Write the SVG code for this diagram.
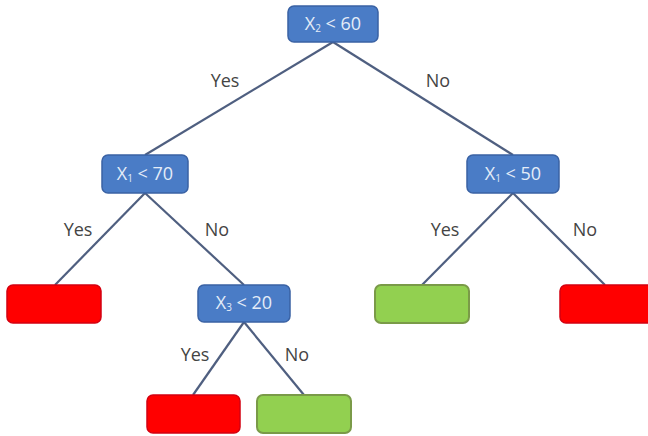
<svg xmlns="http://www.w3.org/2000/svg" width="648" height="436" viewBox="0 0 648 436">
<style>
.dec{fill:#4a7cc6;stroke:#3a62a4;stroke-width:1.5}
.red{fill:#ff0000;stroke:#d40010;stroke-width:1.5}
.grn{fill:#92d050;stroke:#7a9a48;stroke-width:2}
.nt{font-family:"Open Sans","Liberation Sans",sans-serif;font-size:18px;fill:#e4ecf8;text-anchor:middle}
.sub{font-size:10px}
.lbl{font-family:"Open Sans","Liberation Sans",sans-serif;font-size:18px;fill:#444;text-anchor:middle}
.edge{stroke:#4f5f80;stroke-width:2.2;fill:none}
</style>
<rect width="648" height="436" fill="#fff"/>
<g id="connectors">
<line class="edge" x1="333" y1="42" x2="145" y2="155"/>
<line class="edge" x1="333" y1="42" x2="513" y2="155"/>
<line class="edge" x1="145" y1="193" x2="55" y2="285"/>
<line class="edge" x1="145" y1="193" x2="244" y2="285"/>
<line class="edge" x1="513" y1="193" x2="422" y2="285"/>
<line class="edge" x1="513" y1="193" x2="605" y2="285"/>
<line class="edge" x1="244" y1="322" x2="193" y2="395"/>
<line class="edge" x1="244" y1="322" x2="304" y2="395"/>
</g>
<g id="labels">
<text class="lbl" x="225" y="87">Yes</text>
<text class="lbl" x="438" y="87">No</text>
<text class="lbl" x="78" y="236">Yes</text>
<text class="lbl" x="217" y="236">No</text>
<text class="lbl" x="445" y="236">Yes</text>
<text class="lbl" x="585" y="236">No</text>
<text class="lbl" x="195" y="361">Yes</text>
<text class="lbl" x="297" y="361">No</text>
</g>
<g id="n-root">
<rect class="dec" x="288" y="6" width="90" height="36" rx="6"/>
<text class="nt" x="333" y="30">X<tspan class="sub" dy="2">2</tspan><tspan dy="-2"> &lt; 60</tspan></text>
</g>
<g id="n-x1-70">
<rect class="dec" x="102" y="155" width="86" height="38" rx="6"/>
<text class="nt" x="145" y="180">X<tspan class="sub" dy="2">1</tspan><tspan dy="-2"> &lt; 70</tspan></text>
</g>
<g id="n-x1-50">
<rect class="dec" x="467" y="155" width="92" height="38" rx="6"/>
<text class="nt" x="513" y="180">X<tspan class="sub" dy="2">1</tspan><tspan dy="-2"> &lt; 50</tspan></text>
</g>
<g id="n-x3-20">
<rect class="dec" x="198" y="285" width="92" height="37" rx="6"/>
<text class="nt" x="244" y="309">X<tspan class="sub" dy="2">3</tspan><tspan dy="-2"> &lt; 20</tspan></text>
</g>
<g id="leaf-1">
<rect class="red" x="7" y="285" width="94" height="38" rx="6"/>
</g>
<g id="leaf-2">
<rect class="grn" x="375" y="285" width="94" height="38" rx="6"/>
</g>
<g id="leaf-3">
<rect class="red" x="560" y="285" width="95" height="38" rx="6"/>
</g>
<g id="leaf-4">
<rect class="red" x="147" y="395" width="93" height="38" rx="6"/>
</g>
<g id="leaf-5">
<rect class="grn" x="257" y="395" width="94" height="38" rx="6"/>
</g>
</svg>
